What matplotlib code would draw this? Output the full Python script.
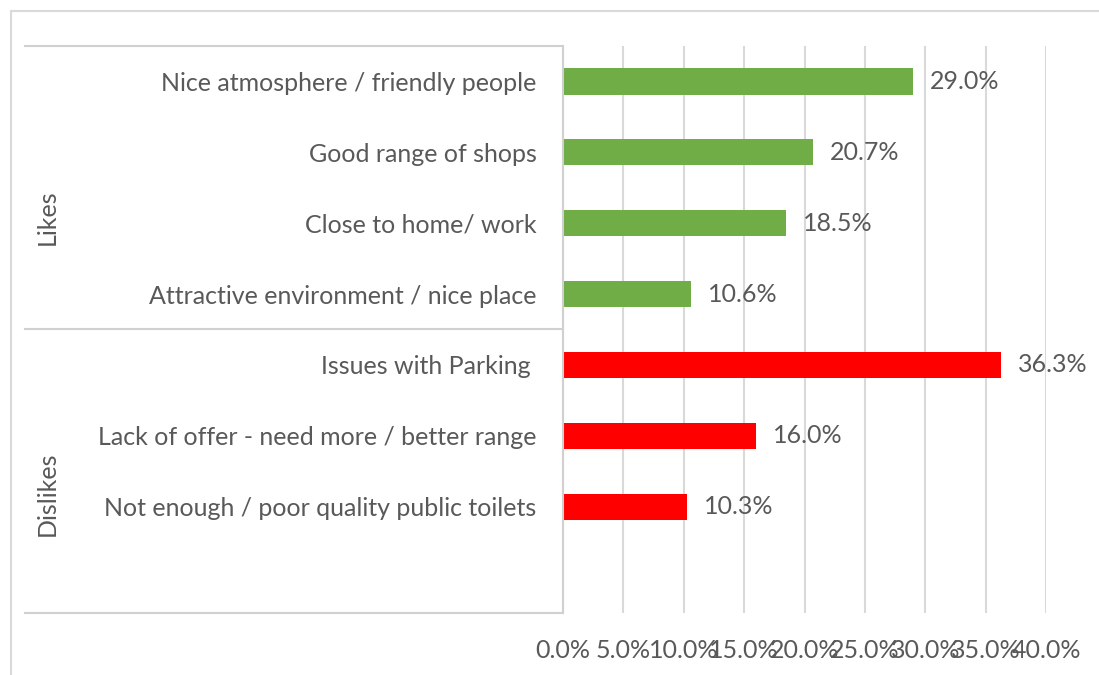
import matplotlib.pyplot as plt
from matplotlib.lines import Line2D
from matplotlib.patches import Rectangle
from matplotlib.ticker import PercentFormatter

# survey answers, top to bottom
likes = ["Nice atmosphere / friendly people", "Good range of shops",
         "Close to home/ work", "Attractive environment / nice place"]
likes_pct = [0.290, 0.207, 0.185, 0.106]
dislikes = ["Issues with Parking ", "Lack of offer - need more / better range",
            "Not enough / poor quality public toilets", ""]
dislikes_pct = [0.363, 0.160, 0.103, None]
groups = ["Likes", "Dislikes"]
xticks = [0, 0.05, 0.10, 0.15, 0.20, 0.25, 0.30, 0.35, 0.40]

GREEN = "#70AD47"
RED = "#FF0000"
GRID = "#D9D9D9"
TXT = "#595959"
FS = 18

plt.rcParams['font.family'] = ['Lato', 'DejaVu Sans']

W, H = 1099, 675
fig = plt.figure(figsize=(W / 100, H / 100), dpi=100)

# plot area in pixels
x0, x1 = 563, 1046
ytop, ybot = 46, 613
ax = fig.add_axes([x0 / W, 1 - ybot / H, (x1 - x0) / W, (ybot - ytop) / H])

labels = likes + dislikes
values = likes_pct + dislikes_pct
colors = [GREEN] * len(likes) + [RED] * len(dislikes)
ypos = list(range(len(labels)))

for y, v, c in zip(ypos, values, colors):
    if v is None:
        continue
    ax.barh(y, v, height=0.37, color=c, zorder=3)
    ax.annotate(f"{v * 100:.1f}%", (v, y), xytext=(12, 0), textcoords="offset points",
                va="center", ha="left", fontsize=FS, color=TXT)

ax.set_ylim(len(labels) - 0.5, -0.5)
ax.set_xlim(0, 0.40)
ax.set_xticks(xticks)
ax.xaxis.set_major_formatter(PercentFormatter(1.0, decimals=1))
ax.set_yticks(ypos)
ax.set_yticklabels(labels)
ax.tick_params(axis="y", length=0, pad=19, labelsize=FS, labelcolor=TXT)
ax.tick_params(axis="x", length=0, pad=19, labelsize=FS, labelcolor=TXT)
ax.grid(axis="x", color=GRID, linewidth=1.5, zorder=0)
for s in ax.spines.values():
    s.set_visible(False)

# category box on the left
def fx(px):
    return px / W

def fy(py):
    return 1 - py / H

box_col = "#D0D0D0"
for py in (ytop, 329, ybot):
    fig.add_artist(Line2D([fx(25), fx(x0)], [fy(py), fy(py)], color=box_col, lw=1.5))
fig.add_artist(Line2D([fx(x0), fx(x0)], [fy(ytop), fy(ybot)], color=box_col, lw=1.5))

fig.text(fx(47), fy(217), groups[0], rotation=90, ha="center", va="center",
         fontsize=FS, color=TXT)
fig.text(fx(47), fy(494), groups[1], rotation=90, ha="center", va="center",
         fontsize=FS, color=TXT)

# outer chart border
fig.add_artist(Rectangle((fx(11), -0.1), 1.2, fy(11) + 0.1, fill=False,
                         edgecolor=GRID, lw=1.5, transform=fig.transFigure))

fig.savefig("out.png", dpi=100, facecolor="white")
